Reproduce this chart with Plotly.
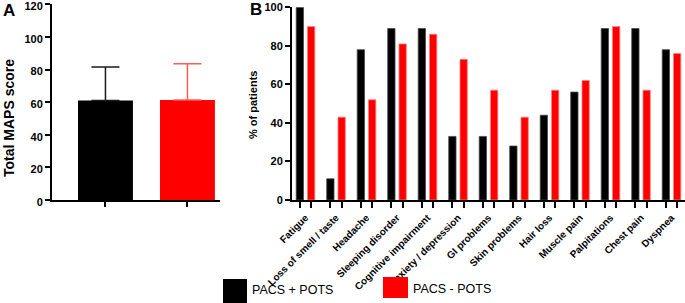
import plotly.graph_objects as go
import numpy as np

# ---------------- data ----------------
groups = ["PACS + POTS", "PACS - POTS"]
maps_mean = [61.0, 61.3]
maps_sd = [20.5, 22.3]

symptoms = ["Fatigue", "Loss of smell / taste", "Headache", "Sleeping disorder",
            "Cognitive impairment", "Anxiety / depression", "GI problems",
            "Skin problems", "Hair loss", "Muscle pain", "Palpitations",
            "Chest pain", "Dyspnea"]
pots_pct = [100, 11, 78, 89, 89, 33, 33, 28, 44, 56, 89, 89, 78]
nopots_pct = [90, 43, 52, 81, 86, 73, 57, 43, 57, 62, 90, 57, 76]

A_ticks = [0, 20, 40, 60, 80, 100, 120]
B_ticks = [0, 20, 40, 60, 80, 100]

# ---------------- layout helpers ----------------
W, H = 685, 303
def px(x):
    return x / W
def py(y):
    return (H - y) / H

FONT = "Liberation Sans, Arial, sans-serif"
BLACK = "#000000"
RED = "#ff0000"

fig = go.Figure()

# Panel A bars (with upward SD error bars)
colors_A = [BLACK, RED]
err_colors = ["#1a1a1a", "#ff5a5a"]
for i, g in enumerate(groups):
    fig.add_trace(go.Bar(
        x=[i], y=[maps_mean[i]], xaxis="x", yaxis="y",
        width=0.67, marker=dict(color=colors_A[i], line=dict(width=0)),
        error_y=dict(type="data", symmetric=False, array=[maps_sd[i]],
                     arrayminus=[0], color=err_colors[i], thickness=1.5,
                     width=14),
        showlegend=False, name=g, hoverinfo="skip"))

# Panel B bars
idx = np.arange(len(symptoms))
fig.add_trace(go.Bar(
    x=idx, y=pots_pct, xaxis="x2", yaxis="y2", width=0.24, offset=-0.305,
    marker=dict(color=BLACK, line=dict(color="#4a4a4a", width=0.8)),
    showlegend=False, name=groups[0], hoverinfo="skip"))
fig.add_trace(go.Bar(
    x=idx, y=nopots_pct, xaxis="x2", yaxis="y2", width=0.24, offset=0.065,
    marker=dict(color=RED, line=dict(color="#ff8080", width=0.8)),
    showlegend=False, name=groups[1], hoverinfo="skip"))

tickfont = dict(family=FONT, size=11, color="black", weight="bold")
axis_common = dict(showline=True, linecolor="black", linewidth=2,
                   showgrid=False, zeroline=False, ticks="outside",
                   ticklen=5, tickwidth=1.5, tickcolor="black",
                   automargin=False, ticklabeloverflow="allow")

minor_vals = []
for i in idx:
    minor_vals += [i - 0.185, i + 0.185]

fig.update_layout(
    width=W, height=H, margin=dict(l=0, r=0, t=0, b=0, autoexpand=False),
    paper_bgcolor="white", plot_bgcolor="white",
    barmode="overlay", showlegend=False,
    xaxis=dict(domain=[px(52), px(220)], range=[-0.652, 1.397],
               tickmode="array", tickvals=[0, 1], showticklabels=False,
               anchor="y", **axis_common),
    yaxis=dict(domain=[py(200), py(4.3)], range=[0, 120], tickmode="array",
               tickvals=A_ticks, tickfont=tickfont, anchor="x",
               ticklabelshift=2, **axis_common),
    xaxis2=dict(domain=[px(292), 1.0], range=[-0.443, 12.442],
                tickmode="array", tickvals=list(idx), ticktext=symptoms,
                tickangle=-45,
                tickfont=dict(family=FONT, size=10, color="black", weight="bold"),
                anchor="y2", showline=True, linecolor="black", linewidth=2,
                showgrid=False, zeroline=False, ticks="outside", ticklen=6,
                tickwidth=1.5, tickcolor="rgba(0,0,0,0)", automargin=False,
                ticklabeloverflow="allow",
                minor=dict(tickmode="array", tickvals=minor_vals, ticks="outside",
                           ticklen=6, tickwidth=1.5, tickcolor="black",
                           showgrid=False)),
    yaxis2=dict(domain=[py(200), py(7.3)], range=[0, 100], tickmode="array",
                tickvals=B_ticks, tickfont=tickfont, anchor="x2",
                **axis_common),
)

ann = []
ann.append(dict(text="<b>A</b>", x=px(1), y=py(11), xref="paper", yref="paper",
                xanchor="left", yanchor="middle", showarrow=False,
                font=dict(family=FONT, size=17, color="black")))
ann.append(dict(text="<b>B</b>", x=px(248), y=py(9), xref="paper", yref="paper",
                xanchor="left", yanchor="middle", showarrow=False,
                font=dict(family=FONT, size=17, color="black")))
ann.append(dict(text="<b>Total MAPS score</b>", x=px(9), y=py(118),
                xref="paper", yref="paper", textangle=-90,
                xanchor="center", yanchor="middle", showarrow=False,
                font=dict(family=FONT, size=14, color="black")))
ann.append(dict(text="<b>% of patients</b>", x=px(253), y=py(105),
                xref="paper", yref="paper", textangle=-90,
                xanchor="center", yanchor="middle", showarrow=False,
                font=dict(family=FONT, size=11, color="black")))
ann.append(dict(text=groups[0], x=px(250), y=py(290), xref="paper", yref="paper",
                xanchor="left", yanchor="middle", showarrow=False,
                font=dict(family=FONT, size=12.5, color="black")))
ann.append(dict(text=groups[1], x=px(411), y=py(289), xref="paper", yref="paper",
                xanchor="left", yanchor="middle", showarrow=False,
                font=dict(family=FONT, size=12.5, color="black")))
fig.update_layout(annotations=ann)

shapes = [
    dict(type="rect", xref="paper", yref="paper", x0=px(223), x1=px(247),
         y0=py(304), y1=py(279), fillcolor=BLACK, line=dict(width=0)),
    dict(type="rect", xref="paper", yref="paper", x0=px(383), x1=px(408),
         y0=py(298), y1=py(277), fillcolor=RED, line=dict(width=0)),
]
fig.update_layout(shapes=shapes)

fig.write_html("out.html", config={"displayModeBar": False},
               post_script="document.body.style.margin='0';"
                           "document.body.style.overflow='hidden';")
